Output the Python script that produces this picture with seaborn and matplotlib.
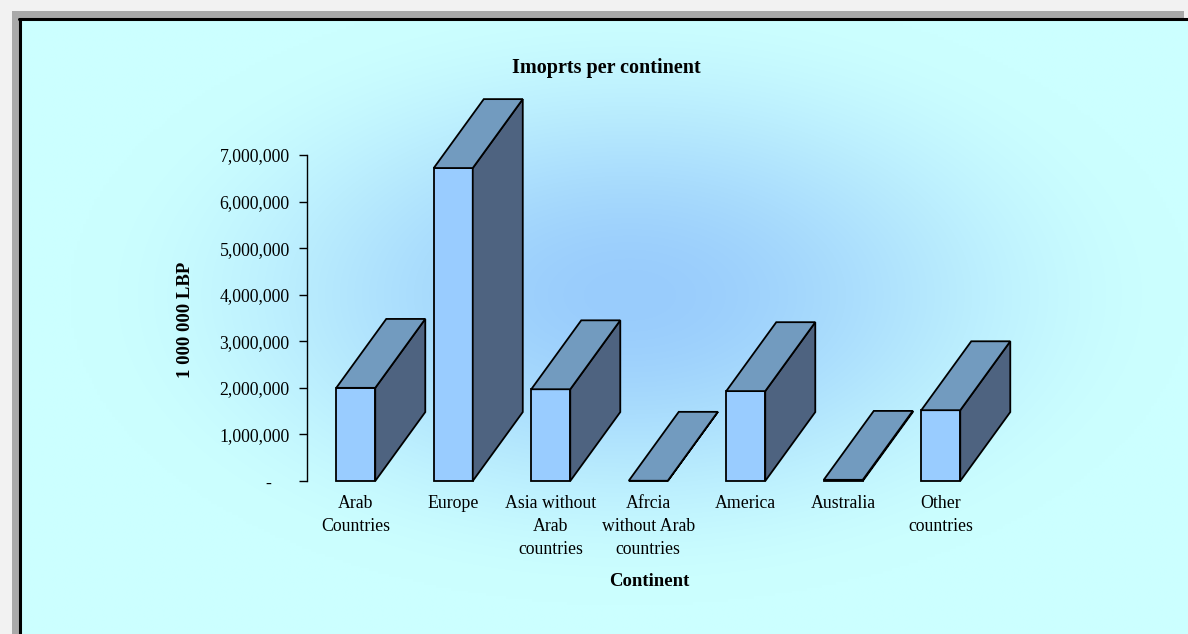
import numpy as np
import pandas as pd
import matplotlib
matplotlib.use("Agg")
import matplotlib.pyplot as plt
from matplotlib.patches import Polygon, Rectangle
from matplotlib.lines import Line2D
from matplotlib.ticker import FuncFormatter
import seaborn as sns

# ---- data ----
categories = ["Arab\nCountries", "Europe", "Asia without\nArab\ncountries",
              "Afrcia\nwithout Arab\ncountries", "America", "Australia",
              "Other\ncountries"]
values = [2000000, 6720000, 1970000, 5000, 1930000, 25000, 1520000]
y_ticks = [0, 1000000, 2000000, 3000000, 4000000, 5000000, 6000000, 7000000]
title = "Imoprts per continent"
x_title = "Continent"
y_title = "1 000 000 LBP"

# ---- style ----
FRONT = "#99CCFF"
TOP = "#729BBF"
SIDE = "#4E6380"
sns.set_style("white")
plt.rcParams["font.family"] = ["Liberation Serif", "DejaVu Serif"]
plt.rcParams["text.color"] = "black"
plt.rcParams["axes.labelcolor"] = "black"
plt.rcParams["xtick.color"] = "black"
plt.rcParams["ytick.color"] = "black"

W, H = 1188, 634
fig = plt.figure(figsize=(W / 100, H / 100), dpi=100, facecolor="white")

# page grid strips (faint) and gray band
fig.add_artist(Rectangle((0, 1 - 19 / H), 1, 19 / H, transform=fig.transFigure,
                         facecolor="#F2F2F2", edgecolor="none", zorder=0))
fig.add_artist(Rectangle((0, 0), 20 / W, 1, transform=fig.transFigure,
                         facecolor="#F2F2F2", edgecolor="none", zorder=0))
fig.add_artist(Rectangle((12 / W, 0), 8 / W, 1 - 11 / H, transform=fig.transFigure,
                         facecolor="#A9A9A9", edgecolor="none", zorder=0))
fig.add_artist(Rectangle((12 / W, 1 - 19 / H), 1 - 12 / W - 4 / W, 8 / H,
                         transform=fig.transFigure,
                         facecolor="#A9A9A9", edgecolor="none", zorder=0))

# background gradient panel
bx0, by1 = 20, 19
bg = fig.add_axes([bx0 / W, 0, 1 - bx0 / W, 1 - by1 / H])
gw, gh = 400, 220
xx, yy = np.meshgrid(np.linspace(bx0, W, gw), np.linspace(by1, H, gh))
cx, cy, rx, ry = 630, 295, 560, 310
r = np.sqrt(((xx - cx) / rx) ** 2 + ((yy - cy) / ry) ** 2)
t = np.clip(r, 0, 1)
t = t * t * (3 - 2 * t)
c_in = np.array([153, 204, 252]) / 255
c_out = np.array([204, 255, 255]) / 255
img = c_in[None, None, :] * (1 - t[..., None]) + c_out[None, None, :] * t[..., None]
bg.imshow(img, extent=[0, 1, 0, 1], aspect="auto", origin="upper",
          interpolation="bilinear")
bg.set_axis_off()
fig.add_artist(Line2D([bx0 / W - 0.0005, 1], [1 - by1 / H, 1 - by1 / H],
                      transform=fig.transFigure, color="black", lw=2.2))
fig.add_artist(Line2D([bx0 / W, bx0 / W], [0, 1 - by1 / H],
                      transform=fig.transFigure, color="black", lw=2.2))

# main axes
axl, axr, axb, axt = 307, 989.5, 481, 155
ax = fig.add_axes([axl / W, 1 - axb / H, (axr - axl) / W, (axb - axt) / H])
ax.set_facecolor("none")

df = pd.DataFrame({"cat": categories, "val": values})
sns.barplot(data=df, x="cat", y="val", width=0.4, color=FRONT, saturation=1,
            edgecolor="black", linewidth=1.3, ax=ax, zorder=3)

ax.set_xlim(-0.5, len(categories) - 0.5)
ax.set_ylim(0, 7000000)

# 3D depth
dx = 0.513
dy = 1480000
for p in list(ax.patches):
    x0 = p.get_x()
    w = p.get_width()
    h = p.get_height()
    top = Polygon([(x0, h), (x0 + w, h), (x0 + w + dx, h + dy), (x0 + dx, h + dy)],
                  closed=True, facecolor=TOP, edgecolor="black", lw=1.3,
                  clip_on=False, zorder=4, joinstyle="miter")
    side = Polygon([(x0 + w, 0), (x0 + w, h), (x0 + w + dx, h + dy), (x0 + w + dx, dy)],
                   closed=True, facecolor=SIDE, edgecolor="black", lw=1.3,
                   clip_on=False, zorder=4, joinstyle="miter")
    ax.add_patch(side)
    ax.add_patch(top)
    p.set_clip_on(False)

# axes styling
for s in ["top", "right", "bottom"]:
    ax.spines[s].set_visible(False)
ax.spines["left"].set_color("black")
ax.spines["left"].set_linewidth(1.0)
ax.set_yticks(y_ticks)
ax.yaxis.set_major_formatter(FuncFormatter(
    lambda v, pos: "-    " if v == 0 else f"{v:,.0f}"))
ax.tick_params(axis="y", which="major", direction="out", length=6, width=1,
               color="black", pad=6.5, labelsize=12.8, left=True)
ax.tick_params(axis="x", length=0, pad=10, labelsize=12.8)
for lbl in ax.get_xticklabels():
    lbl.set_linespacing(1.45)
    lbl.set_verticalalignment("top")
ax.set_xlabel(x_title, fontsize=13.5, fontweight="bold")
ax.xaxis.set_label_coords((649 - axl) / (axr - axl), (axb - 581) / (axb - axt))
ax.xaxis.label.set_verticalalignment("center")
ax.set_ylabel(y_title, fontsize=13.5, fontweight="bold")
ax.yaxis.set_label_coords((185 - axl) / (axr - axl), (axb - 320) / (axb - axt))
ax.yaxis.label.set_verticalalignment("center")
ax.grid(False)

fig.text(606 / W, 1 - 68 / H, title, ha="center", va="center",
         fontsize=14.5, fontweight="bold")

fig.savefig("out.png", dpi=100)
